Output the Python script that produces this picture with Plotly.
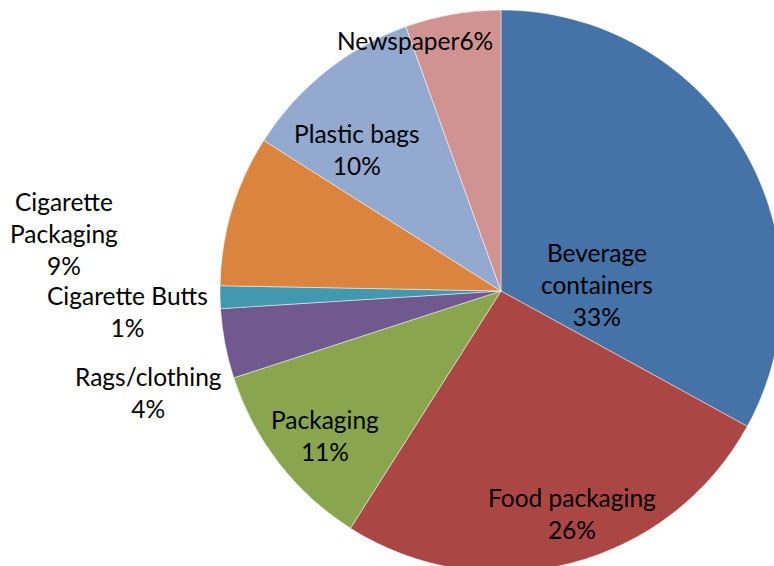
import plotly.graph_objects as go

categories = ["Beverage containers", "Food packaging", "Packaging", "Rags/clothing",
              "Cigarette Butts", "Cigarette Packaging", "Plastic bags", "Newspaper"]
values = [33, 26, 11, 4, 1.3, 8.7, 10.5, 5.5]
pct_labels = ["33%", "26%", "11%", "4%", "1%", "9%", "10%", "6%"]
colors = ["#4572A7", "#AA4643", "#89A54E", "#71588F", "#4198AF", "#DB843D", "#93A9CF", "#D19392"]

W, H = 790, 580
cx, cy, r = 501, 291, 281

fig = go.Figure(go.Pie(
    labels=categories, values=values, sort=False, direction="clockwise", rotation=0,
    marker=dict(colors=colors, line=dict(color="rgba(255,255,255,0.6)", width=0.8)),
    textinfo="none", hoverinfo="label+percent", showlegend=False,
    domain=dict(x=[(cx - r) / W, (cx + r) / W], y=[1 - (cy + r) / H, 1 - (cy - r) / H]),
))

# label text and pixel centres
label_text = [
    "Beverage<br>containers<br>" + pct_labels[0],
    categories[1] + "<br>" + pct_labels[1],
    categories[2] + "<br>" + pct_labels[2],
    categories[3] + "<br>" + pct_labels[3],
    categories[4] + "<br>" + pct_labels[4],
    "Cigarette<br>Packaging<br>" + pct_labels[5],
    categories[6] + "<br>" + pct_labels[6],
    categories[7] + pct_labels[7],
]
label_pos = [(597, 284), (572, 513), (325, 436), (148, 392), (127, 311), (64, 233), (357, 149), (415, 40)]

for t, (px, py) in zip(label_text, label_pos):
    fig.add_annotation(text=t, x=px / W, y=1 - py / H, xref="paper", yref="paper",
                       showarrow=False, xanchor="center", yanchor="middle", align="center",
                       font=dict(family="Lato", size=24.5, color="#000000"))

fig.update_layout(width=W, height=H, margin=dict(l=0, r=0, t=0, b=0),
                  paper_bgcolor="white", plot_bgcolor="white")

fig.write_html("out.html", config={"displayModeBar": False},
               post_script="document.body.style.margin='0';document.body.style.overflow='hidden';document.documentElement.style.overflow='hidden';")
